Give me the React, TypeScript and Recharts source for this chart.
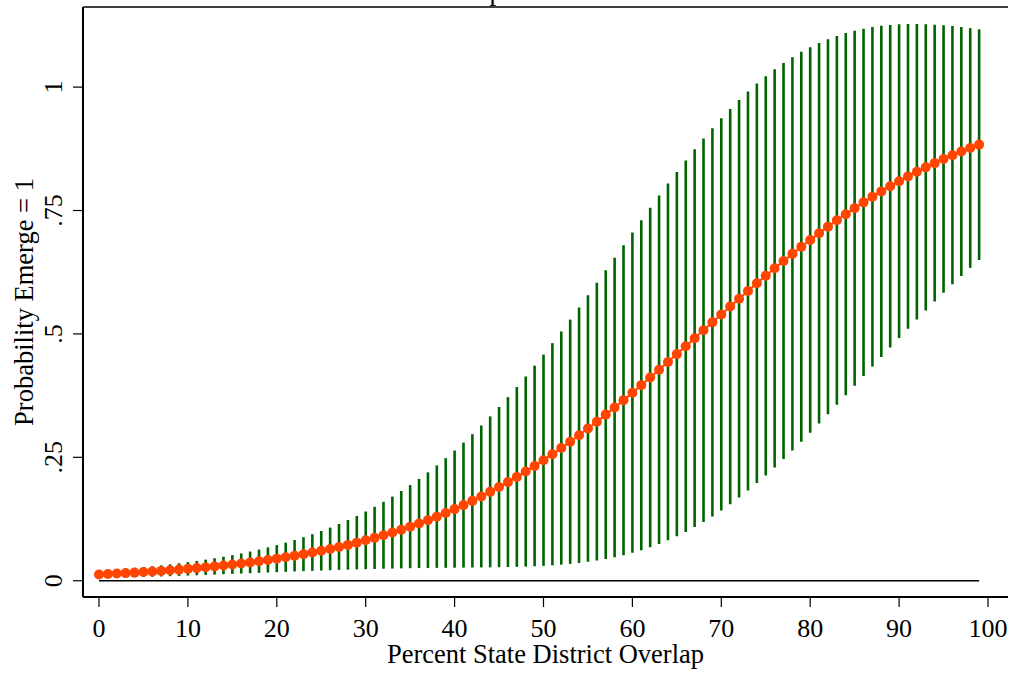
import { ComposedChart, ErrorBar, Line, ReferenceLine, XAxis, YAxis } from 'recharts';

// percent overlap, 0..99
const overlap = [
  0, 1, 2, 3, 4, 5, 6, 7, 8, 9,
  10, 11, 12, 13, 14, 15, 16, 17, 18, 19,
  20, 21, 22, 23, 24, 25, 26, 27, 28, 29,
  30, 31, 32, 33, 34, 35, 36, 37, 38, 39,
  40, 41, 42, 43, 44, 45, 46, 47, 48, 49,
  50, 51, 52, 53, 54, 55, 56, 57, 58, 59,
  60, 61, 62, 63, 64, 65, 66, 67, 68, 69,
  70, 71, 72, 73, 74, 75, 76, 77, 78, 79,
  80, 81, 82, 83, 84, 85, 86, 87, 88, 89,
  90, 91, 92, 93, 94, 95, 96, 97, 98, 99,
];

const probability = [
  0.0127, 0.0136, 0.0145, 0.0154, 0.0164, 0.0175, 0.0186, 0.0199, 0.0212, 0.0225,
  0.024, 0.0255, 0.0272, 0.029, 0.0308, 0.0328, 0.0349, 0.0371, 0.0395, 0.042,
  0.0447, 0.0475, 0.0505, 0.0537, 0.0571, 0.0607, 0.0644, 0.0684, 0.0726, 0.0771,
  0.0818, 0.0868, 0.092, 0.0976, 0.1034, 0.1095, 0.1159, 0.1227, 0.1298, 0.1372,
  0.1451, 0.1532, 0.1618, 0.1707, 0.18, 0.1897, 0.1998, 0.2103, 0.2212, 0.2325,
  0.2442, 0.2563, 0.2687, 0.2816, 0.2948, 0.3083, 0.3222, 0.3365, 0.351, 0.3658,
  0.3809, 0.3962, 0.4117, 0.4273, 0.4432, 0.4591, 0.4751, 0.4912, 0.5073, 0.5234,
  0.5394, 0.5554, 0.5712, 0.5869, 0.6025, 0.6178, 0.6329, 0.6477, 0.6622, 0.6765,
  0.6904, 0.704, 0.7173, 0.7301, 0.7426, 0.7548, 0.7665, 0.7778, 0.7887, 0.7993,
  0.8094, 0.8191, 0.8285, 0.8374, 0.846, 0.8542, 0.8621, 0.8695, 0.8767, 0.8835,
];

const lower = [
  0.005, 0.0054, 0.0059, 0.0064, 0.0069, 0.0074, 0.008, 0.0086, 0.0092, 0.0098,
  0.0104, 0.0111, 0.0117, 0.0124, 0.0131, 0.0138, 0.0145, 0.0152, 0.0159, 0.0166,
  0.0173, 0.018, 0.0187, 0.0194, 0.02, 0.0206, 0.0212, 0.0218, 0.0224, 0.0229,
  0.0234, 0.0238, 0.0243, 0.0247, 0.025, 0.0253, 0.0256, 0.0258, 0.026, 0.0262,
  0.0264, 0.0265, 0.0267, 0.0269, 0.0271, 0.0273, 0.0277, 0.0281, 0.0286, 0.0293,
  0.0301, 0.0312, 0.0325, 0.0341, 0.036, 0.0383, 0.041, 0.0441, 0.0477, 0.0518,
  0.0565, 0.0619, 0.0678, 0.0745, 0.0819, 0.09, 0.0989, 0.1086, 0.119, 0.1302,
  0.1422, 0.155, 0.1685, 0.1828, 0.1978, 0.2133, 0.2296, 0.2464, 0.2638, 0.2816,
  0.2999, 0.3184, 0.3373, 0.3565, 0.3757, 0.3951, 0.4146, 0.434, 0.4534, 0.4726,
  0.4917, 0.5106, 0.5292, 0.5476, 0.5656, 0.5832, 0.6005, 0.6174, 0.6338, 0.6498,
];

const upper = [
  0.0205, 0.0217, 0.0231, 0.0245, 0.026, 0.0276, 0.0293, 0.0312, 0.0332, 0.0353,
  0.0376, 0.04, 0.0427, 0.0455, 0.0486, 0.0518, 0.0553, 0.0591, 0.0631, 0.0675,
  0.0721, 0.0771, 0.0824, 0.0881, 0.0942, 0.1007, 0.1076, 0.115, 0.1229, 0.1313,
  0.1402, 0.1497, 0.1598, 0.1705, 0.1817, 0.1937, 0.2063, 0.2196, 0.2336, 0.2483,
  0.2637, 0.2799, 0.2968, 0.3145, 0.3329, 0.3521, 0.3719, 0.3925, 0.4137, 0.4357,
  0.4582, 0.4813, 0.5049, 0.529, 0.5535, 0.5784, 0.6035, 0.6288, 0.6543, 0.6797,
  0.7052, 0.7304, 0.7555, 0.7802, 0.8045, 0.8282, 0.8514, 0.8739, 0.8957, 0.9166,
  0.9367, 0.9558, 0.9739, 0.9911, 1.0071, 1.0222, 1.0361, 1.0489, 1.0607, 1.0714,
  1.081, 1.0896, 1.0972, 1.1038, 1.1095, 1.1144, 1.1184, 1.1216, 1.1241, 1.1259,
  1.1271, 1.1277, 1.1277, 1.1273, 1.1264, 1.1252, 1.1236, 1.1217, 1.1195, 1.1171,
];

const xTicks = [0, 10, 20, 30, 40, 50, 60, 70, 80, 90, 100];
const yTicks = [0, 0.25, 0.5, 0.75, 1];
const yTickLabels = ['0', '.25', '.5', '.75', '1'];

const data = overlap.map((x, i) => ({
  x,
  p: probability[i],
  ci: [probability[i] - lower[i], upper[i] - probability[i]],
}));

const FONT = '"Liberation Serif", "Times New Roman", serif';
const X_DOMAIN = [-1.8, 102.25];
const Y_DOMAIN = [-0.033, 1.1623];

function XTick(props: any) {
  const { x, payload } = props;
  return (
    <text x={x} y={637} textAnchor="middle" fontFamily={FONT} fontSize={26} fill="#000">
      {payload.value}
    </text>
  );
}

function YTick(props: any) {
  const { y, payload } = props;
  const label = yTickLabels[yTicks.indexOf(payload.value)];
  return (
    <text
      x={62}
      y={y}
      transform={`rotate(-90 62 ${y})`}
      textAnchor="middle"
      fontFamily={FONT}
      fontSize={26}
      fill="#000"
    >
      {label}
    </text>
  );
}

export default function App() {
  return (
    <div style={{ position: 'absolute', left: 0, top: 0, background: '#fff' }}>
      <ComposedChart
        width={1018}
        height={673}
        data={data}
        margin={{ top: 7, right: 10, left: 0, bottom: 0 }}
      >
        <XAxis
          dataKey="x"
          type="number"
          domain={X_DOMAIN}
          allowDataOverflow
          ticks={xTicks}
          interval={0}
          height={76}
          tick={<XTick />}
          tickSize={10}
          tickLine={{ stroke: '#000', strokeWidth: 1.2 }}
          axisLine={{ stroke: '#000', strokeWidth: 2 }}
          label={{
            content: () => (
              <text x={545.5} y={663} textAnchor="middle" fontFamily={FONT} fontSize={26.5} fill="#000">
                Percent State District Overlap
              </text>
            ),
          }}
        />
        <YAxis
          type="number"
          domain={Y_DOMAIN}
          allowDataOverflow
          ticks={yTicks}
          interval={0}
          width={83}
          tick={<YTick />}
          tickSize={10}
          tickLine={{ stroke: '#000', strokeWidth: 1.2 }}
          axisLine={{ stroke: '#000', strokeWidth: 2 }}
          label={{
            content: () => (
              <text
                x={33}
                y={302}
                transform="rotate(-90 33 302)"
                textAnchor="middle"
                fontFamily={FONT}
                fontSize={26.5}
                fill="#000"
              >
                Probability Emerge = 1
              </text>
            ),
          }}
        />
        <YAxis
          yAxisId="right"
          orientation="right"
          type="number"
          domain={Y_DOMAIN}
          width={0}
          tick={false}
          tickLine={false}
          axisLine={{ stroke: '#000', strokeWidth: 1.5 }}
        />
        {/* top edge of the plot box */}
        <ReferenceLine y={Y_DOMAIN[1]} stroke="#000" strokeWidth={1.5} ifOverflow="visible" />
        <ReferenceLine
          segment={[
            { x: 0, y: 0 },
            { x: 99, y: 0 },
          ]}
          stroke="#000"
          strokeWidth={1.5}
        />
        <Line dataKey="p" stroke="none" dot={false} isAnimationActive={false}>
          <ErrorBar
            dataKey="ci"
            direction="y"
            width={0}
            stroke="#006400"
            strokeWidth={2.6}
            isAnimationActive={false}
          />
        </Line>
        <Line
          dataKey="p"
          stroke="#ff4500"
          strokeWidth={2}
          dot={{ r: 5, fill: '#ff4500', stroke: 'none' }}
          isAnimationActive={false}
        />
      </ComposedChart>
      <svg
        width={1018}
        height={20}
        style={{ position: 'absolute', left: 0, top: 0, overflow: 'visible', pointerEvents: 'none' }}
      >
        <text x={496} y={0} textAnchor="middle" fontFamily={FONT} fontSize={26.5} fill="#000">
          p
        </text>
      </svg>
    </div>
  );
}
